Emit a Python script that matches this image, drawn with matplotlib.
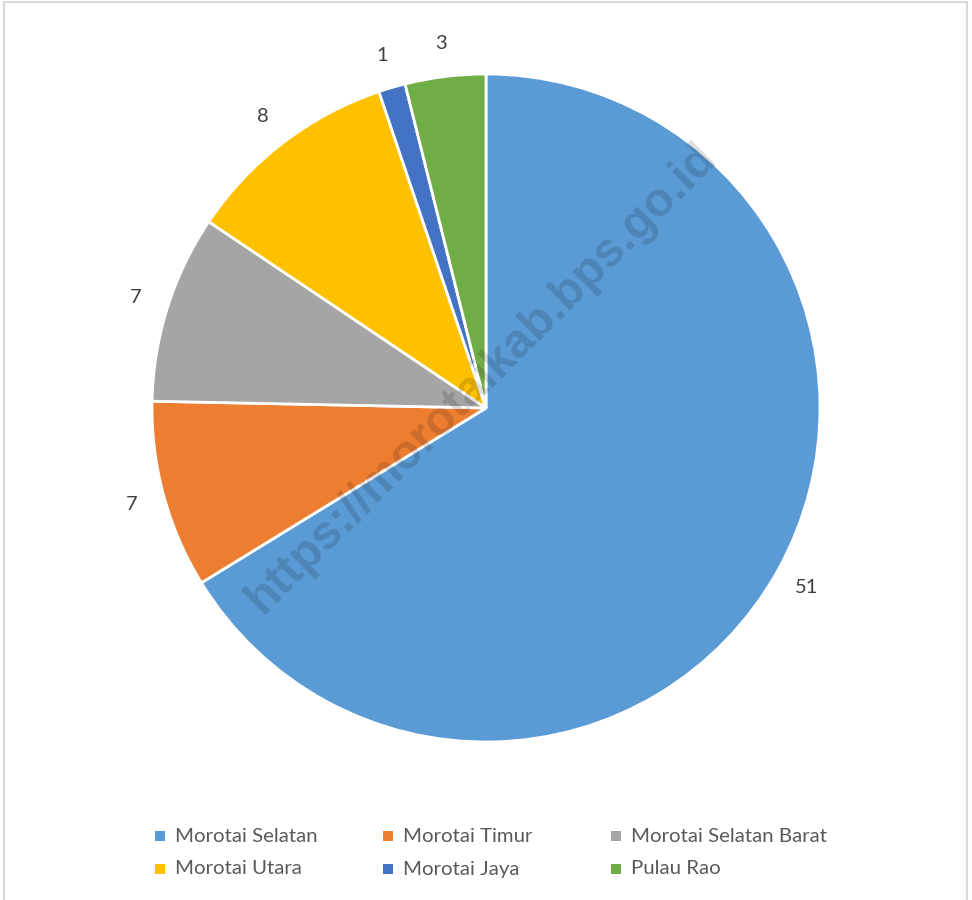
import matplotlib
matplotlib.use("Agg")
import matplotlib.pyplot as plt
from matplotlib.patches import Rectangle

categories = ["Morotai Selatan", "Morotai Timur", "Morotai Selatan Barat",
              "Morotai Utara", "Morotai Jaya", "Pulau Rao"]
values = [51, 7, 7, 8, 1, 3]
colors = ["#5B9BD5", "#ED7D31", "#A5A5A5", "#FFC000", "#4472C4", "#70AD47"]

plt.rcParams['font.family'] = ['Lato', 'DejaVu Sans']
W, H = 972, 900
fig = plt.figure(figsize=(W / 100, H / 100), dpi=100)
fig.patch.set_facecolor('white')

# pie axes: centre (486, 408) px from top, radius 334 px
R = 334
a = 1.2
size = 2 * a * R
cx, cy = 486, 408
ax = fig.add_axes([(cx - size / 2) / W, (H - cy - size / 2) / H, size / W, size / H])

wedges, texts = ax.pie(values, colors=colors, startangle=90, counterclock=False,
                       labels=[str(v) for v in values], labeldistance=1.10,
                       wedgeprops=dict(edgecolor='white', linewidth=2.0),
                       textprops=dict(fontsize=14.5, color='#404040'))
ax.set_xlim(-a, a)
ax.set_ylim(-a, a)
ax.axis('off')
for t in texts:
    t.set_ha('center')
    t.set_va('center')
    t.set_clip_on(False)

# watermark
fig.text(482 / W, 1 - 378 / H, "https://morotaikab.bps.go.id", rotation=45,
         ha='center', va='center', fontsize=34.5, fontweight='bold',
         family=['Liberation Sans', 'DejaVu Sans'], color='black', alpha=0.14)

# legend (Excel-style fixed column widths)
col_x = [155, 383, 611]
row_y = [836, 869]
sq = 10
for i, (cat, col) in enumerate(zip(categories, colors)):
    r, c = divmod(i, 3)
    x, y = col_x[c], row_y[r]
    fig.patches.append(Rectangle((x / W, 1 - (y + sq / 2) / H), sq / W, sq / H,
                                 transform=fig.transFigure, facecolor=col,
                                 edgecolor='none'))
    fig.text((x + 20) / W, 1 - y / H, cat, ha='left', va='center',
             fontsize=14.7, color='#595959')

# outer border
fig.patches.append(Rectangle((4 / W, -0.01), 963 / W, 1 - 2 / H + 0.01,
                             transform=fig.transFigure, facecolor='none',
                             edgecolor='#D9D9D9', linewidth=1.5))

fig.savefig("out.png", dpi=100)
